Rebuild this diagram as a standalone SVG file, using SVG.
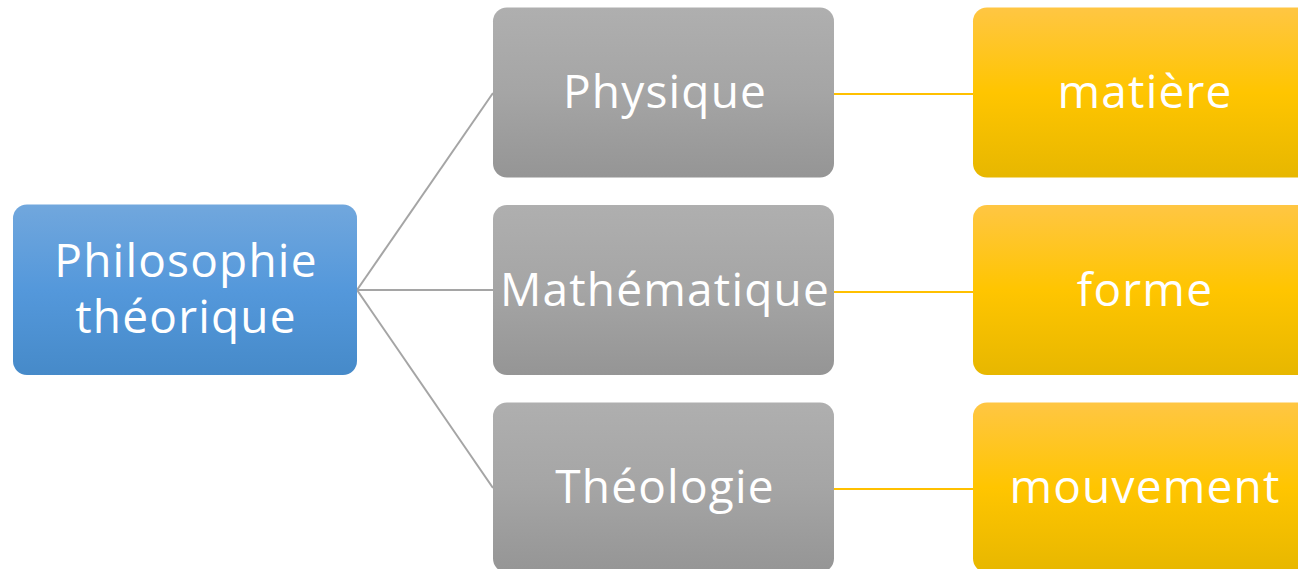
<svg xmlns="http://www.w3.org/2000/svg" width="1298" height="569" viewBox="0 0 1298 569">
<defs>
<linearGradient id="gBlue" x1="0" y1="0" x2="0" y2="1"><stop offset="0" stop-color="#71a7dd"/><stop offset="0.5" stop-color="#5498db"/><stop offset="1" stop-color="#468ac9"/></linearGradient>
<linearGradient id="gGray" x1="0" y1="0" x2="0" y2="1"><stop offset="0" stop-color="#afafaf"/><stop offset="0.5" stop-color="#a5a5a5"/><stop offset="1" stop-color="#959595"/></linearGradient>
<linearGradient id="gGold" x1="0" y1="0" x2="0" y2="1"><stop offset="0" stop-color="#ffc643"/><stop offset="0.5" stop-color="#ffc500"/><stop offset="1" stop-color="#e7b700"/></linearGradient>
<style>
.t{font-family:"Open Sans","Noto Sans",sans-serif;font-size:46px;letter-spacing:1.2px;fill:#ffffff;text-anchor:middle;}
.cg{stroke:#a5a5a5;stroke-width:2;fill:none;}
.cy{stroke:#ffc000;stroke-width:2;fill:none;}
</style>
</defs>
<g id="connectors">
<line class="cg" x1="357" y1="290" x2="493" y2="93"/>
<line class="cg" x1="357" y1="290" x2="493" y2="290"/>
<line class="cg" x1="357" y1="290" x2="493" y2="488"/>
<line class="cy" x1="834" y1="94" x2="973" y2="94"/>
<line class="cy" x1="834" y1="292" x2="973" y2="292"/>
<line class="cy" x1="834" y1="489" x2="973" y2="489"/>
</g>
<g id="n-philo"><rect x="13" y="204.5" width="344" height="170.5" rx="14" fill="url(#gBlue)"/><text class="t" x="186" y="277">Philosophie</text><text class="t" x="186" y="333">théorique</text></g>
<g id="n-physique"><rect x="493" y="7.5" width="341" height="170" rx="14" fill="url(#gGray)"/><text class="t" x="665" y="108">Physique</text></g>
<g id="n-math"><rect x="493" y="205" width="341" height="170" rx="14" fill="url(#gGray)"/><text class="t" x="665" y="306">Mathématique</text></g>
<g id="n-theo"><rect x="493" y="402.5" width="341" height="170" rx="14" fill="url(#gGray)"/><text class="t" x="665" y="503">Théologie</text></g>
<g id="n-matiere"><rect x="973" y="7.5" width="341" height="170" rx="14" fill="url(#gGold)"/><text class="t" x="1145" y="108">matière</text></g>
<g id="n-forme"><rect x="973" y="205" width="341" height="170" rx="14" fill="url(#gGold)"/><text class="t" x="1145" y="306">forme</text></g>
<g id="n-mouv"><rect x="973" y="402.5" width="341" height="170" rx="14" fill="url(#gGold)"/><text class="t" x="1145" y="503">mouvement</text></g>
</svg>
